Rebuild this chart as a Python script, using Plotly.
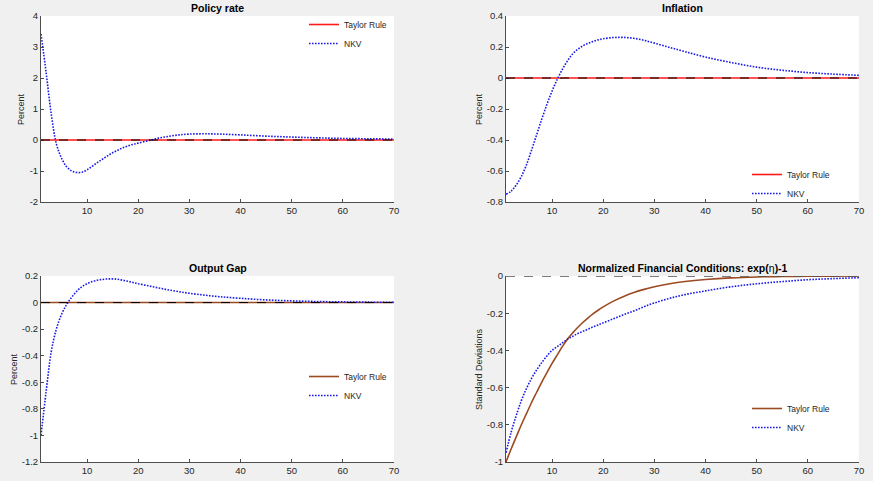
import plotly.graph_objects as go

# impulse horizon (quarters) at which values were read
periods = list(range(1, 21)) + [22, 24, 26, 28, 30, 33, 36, 40, 45, 50, 55, 60, 65, 70]

# Taylor rule responses (flat in the first three panels)
taylor_policy = [0.0] * len(periods)
taylor_inflation = [0.0] * len(periods)
taylor_output = [0.0] * len(periods)
taylor_fin = [-1.0, -0.93, -0.865, -0.8, -0.74, -0.68, -0.625, -0.57, -0.52, -0.47,
              -0.425, -0.38, -0.34, -0.307, -0.277, -0.25, -0.226, -0.204, -0.184, -0.166,
              -0.135, -0.11, -0.089, -0.072, -0.058, -0.042, -0.03, -0.019, -0.01, -0.005,
              -0.003, -0.0015, -0.0007, 0.0]

# NKV responses
nkv_policy = [3.42, 2.18, 0.84, -0.12, -0.58, -0.86, -1.0, -1.05, -1.04, -0.96,
              -0.85, -0.73, -0.62, -0.51, -0.41, -0.33, -0.25, -0.19, -0.14, -0.1,
              -0.02, 0.06, 0.12, 0.165, 0.19, 0.2, 0.19, 0.165, 0.125, 0.095,
              0.07, 0.05, 0.04, 0.03]
nkv_inflation = [-0.75, -0.73, -0.69, -0.635, -0.56, -0.465, -0.365, -0.265, -0.17, -0.085,
                 -0.01, 0.055, 0.11, 0.155, 0.185, 0.207, 0.223, 0.236, 0.246, 0.253,
                 0.261, 0.262, 0.256, 0.243, 0.225, 0.197, 0.17, 0.135, 0.1, 0.07,
                 0.05, 0.035, 0.025, 0.017]
nkv_output = [-1.0, -0.67, -0.37, -0.2, -0.09, -0.015, 0.04, 0.085, 0.12, 0.142,
              0.158, 0.168, 0.174, 0.178, 0.178, 0.175, 0.168, 0.16, 0.151, 0.142,
              0.126, 0.11, 0.095, 0.082, 0.07, 0.056, 0.044, 0.032, 0.02, 0.013,
              0.008, 0.005, 0.003, 0.002]
nkv_fin = [-0.95, -0.84, -0.75, -0.67, -0.605, -0.55, -0.505, -0.465, -0.43, -0.4,
           -0.38, -0.36, -0.34, -0.325, -0.31, -0.298, -0.286, -0.274, -0.263, -0.252,
           -0.23, -0.208, -0.188, -0.165, -0.145, -0.12, -0.1, -0.08, -0.058, -0.042,
           -0.03, -0.02, -0.014, -0.009]

panels = [
    ("Policy rate", "Percent", taylor_policy, nkv_policy, [-2, 4], [-2, -1, 0, 1, 2, 3, 4], "#ff1a1a"),
    ("Inflation", "Percent", taylor_inflation, nkv_inflation, [-0.8, 0.4],
     [-0.8, -0.6, -0.4, -0.2, 0, 0.2, 0.4], "#ff1a1a"),
    ("Output Gap", "Percent", taylor_output, nkv_output, [-1.2, 0.2],
     [-1.2, -1, -0.8, -0.6, -0.4, -0.2, 0, 0.2], "#9c4a22"),
    ("Normalized Financial Conditions: exp(</b>η<b>)-1", "Standard Deviations", taylor_fin, nkv_fin,
     [-1, 0], [-1, -0.8, -0.6, -0.4, -0.2, 0], "#9c4a22"),
]

W, H = 873, 481
xdom = [[41 / W, 394 / W], [506 / W, 859 / W]]
ydom = [[1 - 202 / H, 1 - 16 / H], [1 - 462 / H, 1 - 276 / H]]
title_y = [1 - 8 / H, 1 - 268 / H]
label_x = [21 / W, 479 / W, 14 / W, 479 / W]
legend_pos = [(304 / W, 1 - 10 / H), (747 / W, 1 - 160 / H),
              (304 / W, 1 - 362 / H), (747 / W, 1 - 394 / H)]

axis_col = "#4d4d4d"
font = "Liberation Sans, Arial, sans-serif"

fig = go.Figure()
layout = dict(width=W, height=H, autosize=False,
              margin=dict(l=0, r=0, t=0, b=0, pad=0, autoexpand=False),
              paper_bgcolor="#f0f0f0", plot_bgcolor="white",
              font=dict(family=font, size=9.5, color="#262626"),
              annotations=[], shapes=[])

for i, (title, ylab, tay, nkv, yr, yt, tcol) in enumerate(panels):
    n = i + 1
    col, row = i % 2, i // 2
    xa = "x" if n == 1 else f"x{n}"
    ya = "y" if n == 1 else f"y{n}"
    lg = "legend" if n == 1 else f"legend{n}"

    fig.add_trace(go.Scatter(x=periods, y=tay, mode="lines", name="Taylor Rule",
                             line=dict(color=tcol, width=1.6, shape="spline"),
                             xaxis=xa, yaxis=ya, legend=lg))
    fig.add_trace(go.Scatter(x=periods, y=nkv, mode="lines", name="NKV",
                             line=dict(color="#1a1ae6", width=1.6, dash="1.6px,1.4px", shape="spline"),
                             xaxis=xa, yaxis=ya, legend=lg))

    # dashed zero reference line
    layout["shapes"].append(dict(type="line", xref=f"{xa} domain", yref=ya,
                                 x0=0, x1=1, y0=0, y1=0, layer="above",
                                 line=dict(color="#505050" if n == 4 else "black",
                                           width=1.5 if n == 4 else 1, dash="dash")))

    layout[f"xaxis{'' if n == 1 else n}"] = dict(
        domain=xdom[col], anchor=ya, range=[1, 70], automargin=False,
        tickvals=[10, 20, 30, 40, 50, 60, 70], ticks="inside", ticklen=3,
        tickcolor=axis_col, showline=True, linecolor=axis_col, linewidth=1,
        showgrid=False, zeroline=False, tickfont=dict(size=9.5, color="#262626"))
    layout[f"yaxis{'' if n == 1 else n}"] = dict(
        domain=ydom[row], anchor=xa, range=yr, automargin=False,
        tickvals=yt, ticktext=[("%g" % v) for v in yt], ticks="inside", ticklen=3,
        tickcolor=axis_col, showline=True, linecolor=axis_col, linewidth=1,
        showgrid=False, zeroline=False, tickfont=dict(size=9.5, color="#262626"))

    lx, ly = legend_pos[i]
    layout[lg] = dict(x=lx, y=ly, xanchor="left", yanchor="top",
                      bgcolor="rgba(255,255,255,0)", borderwidth=0,
                      font=dict(size=8.5, color="#262626"), tracegroupgap=0,
                      itemwidth=30)

    layout["annotations"].append(dict(
        text=f"<b>{title}</b>", xref="paper", yref="paper",
        x=(xdom[col][0] + xdom[col][1]) / 2, y=title_y[row],
        showarrow=False, xanchor="center", yanchor="middle",
        font=dict(size=10.5, color="black")))
    layout["annotations"].append(dict(
        text=ylab, xref="paper", yref="paper", textangle=-90,
        x=label_x[i], y=(ydom[row][0] + ydom[row][1]) / 2,
        showarrow=False, xanchor="center", yanchor="middle",
        font=dict(size=9, color="#262626")))

fig.update_layout(**layout)
fig.write_html("out.html", config={"displayModeBar": False},
               post_script="document.body.style.margin='0';document.body.style.overflow='hidden';")
